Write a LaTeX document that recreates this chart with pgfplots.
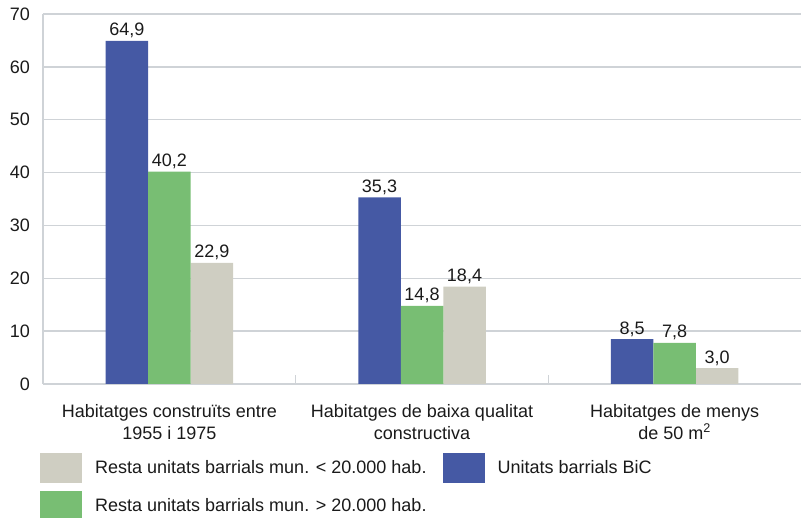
\documentclass[border=0pt]{standalone}
\usepackage{fontspec}
\setmainfont{Liberation Sans}
\usepackage{pgfplots}
\pgfplotsset{compat=1.18}

\definecolor{bic}{HTML}{4559A4}
\definecolor{mesvint}{HTML}{78BE73}
\definecolor{menysvint}{HTML}{CFCEC2}
\definecolor{gridc}{HTML}{CFD3D7}
\definecolor{txt}{HTML}{1A1A1A}

\pgfplotsset{
  sqleg/.style={legend image code/.code={\fill[##1] (0pt,-15pt) rectangle (42pt,15pt);}},
}

\begin{document}
\begin{tikzpicture}[x=1pt,y=1pt]
\useasboundingbox (-43,-134) rectangle (758,384);
\begin{axis}[
    at={(0,0)}, anchor=south west,
    scale only axis,
    width=758pt, height=370pt,
    xmin=-0.5, xmax=2.5, ymin=0, ymax=70,
    ybar, bar width=42.5pt,
    axis x line*=bottom, axis y line*=left,
    axis line style={-, draw=gridc, line width=1.5pt},
    ytick={0,10,...,70},
    ymajorgrids, grid style={draw=gridc, line width=1.5pt},
    major tick length=0pt,
    xtick={0,1,2},
    xticklabels={{Habitatges construïts entre\\1955 i 1975},
                 {Habitatges de baixa qualitat\\constructiva},
                 {Habitatges de menys\\de 50 m\textsuperscript{2}}},
    extra x ticks={0.5,1.5},
    extra x tick labels={},
    extra x tick style={grid=none, major tick length=9pt, tick align=inside,
        tick style={draw=gridc, line width=1.5pt}},
    xticklabel style={align=center, inner sep=0pt, yshift=-20pt,
        font=\fontsize{18}{22}\selectfont, text=txt},
    yticklabel style={anchor=east, inner sep=0pt, xshift=-13pt,
        font=\fontsize{18}{22}\selectfont, text=txt},
    /pgf/number format/assume math mode=true,
    nodes near coords={\pgfmathprintnumber[fixed,fixed zerofill,precision=1,use comma,assume math mode=true]{\pgfplotspointmeta}},
    nodes near coords style={anchor=base, inner sep=0pt, yshift=5pt,
        font=\fontsize{18}{22}\selectfont, text=txt},
    legend columns=2,
    legend style={draw=none, at={(0,0)}, anchor=north west,
        xshift=-3pt, yshift=-69pt, inner sep=0pt, row sep=8pt,
        font=\fontsize{18}{22}\selectfont, text=txt,
        nodes={inner sep=0pt, anchor=west},
        /tikz/every odd column/.append style={column sep=13pt},
        /tikz/every even column/.append style={column sep=16pt}},
]
\addplot[sqleg, fill=menysvint, draw=none, bar shift=42.5pt]
    coordinates {(0,22.9) (1,18.4) (2,3.0)};
\addlegendentry{Resta unitats barrials mun. < 20.000 hab.}
\addplot[sqleg, fill=bic, draw=none, bar shift=-42.5pt]
    coordinates {(0,64.9) (1,35.3) (2,8.5)};
\addlegendentry{Unitats barrials BiC}
\addplot[sqleg, fill=mesvint, draw=none, bar shift=0pt]
    coordinates {(0,40.2) (1,14.8) (2,7.8)};
\addlegendentry{Resta unitats barrials mun. > 20.000 hab.}
\end{axis}
\end{tikzpicture}
\end{document}
